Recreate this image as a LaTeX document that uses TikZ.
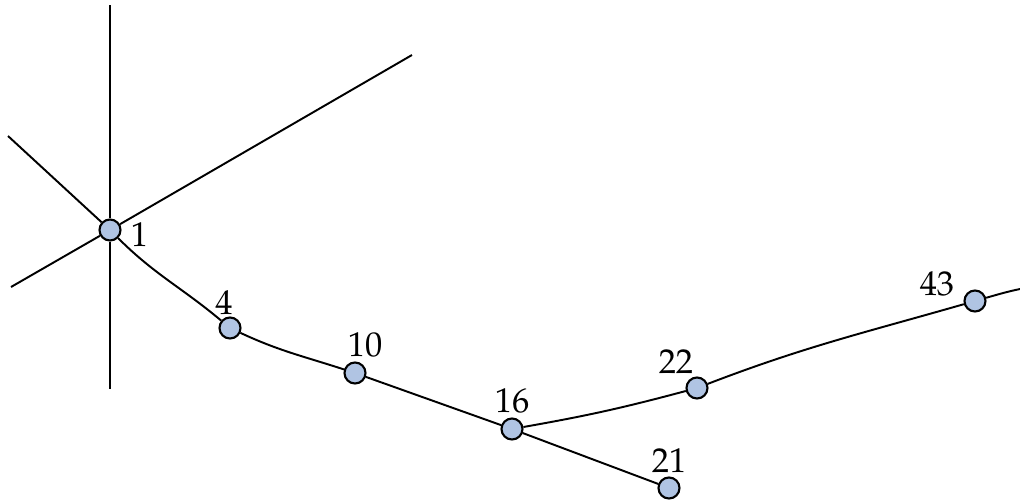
\documentclass[tikz,border=0pt]{standalone}
\usepackage[T1]{fontenc}
\usepackage{mathpazo}
\usepackage{xcolor}
\usepackage{tikz}
\usetikzlibrary{positioning}
\definecolor{vertexblue}{rgb}{0.69,0.77,0.89}

\begin{document}
\begin{tikzpicture}[x=0.01cm, y=0.01cm,
        vertex/.style={circle, draw=black, fill=vertexblue, line width=0.6pt, minimum size=0.21cm, inner sep=0pt},
        lbl/.style={inner sep=1pt, font=\fontsize{9.8}{11}\selectfont},
        edge/.style={draw, line width=0.55pt}]
        \useasboundingbox (0,0) rectangle (1020,499);

        \node [vertex, label={[lbl, xshift=0.05cm, yshift=-0.05cm]right:1}] (n1) at (110,269) {};
        \node [vertex, label={[lbl, xshift=-0.06cm, yshift=-0.02cm]above:4}] (n4) at (230,171) {};
        \node [vertex, label={[lbl, xshift=0.1cm]above:10}] (n10) at (355,126) {};
        \node [vertex, label={[lbl]above:16}] (n16) at (512,70) {};
        \node [vertex, label={[lbl, xshift=-0.21cm, yshift=-0.01cm]above:22}] (n22) at (697,111) {};
        \node [vertex, label={[lbl]above:21}] (n21) at (669,11) {};
        \node [vertex, label={[lbl, xshift=-0.05cm, yshift=0.17cm]left:43}] (n43) at (975,198) {};

        % loose ends
        \coordinate (top) at (110,494);
        \coordinate (bottom) at (110,110);
        \coordinate (nw) at (8,363);
        \coordinate (sw) at (11,212);
        \coordinate (ne) at (412,444);
        \coordinate (rt) at (1020,210);

        \path [edge] (top) -- (n1);
        \path [edge] (n1) -- (bottom);
        \path [edge] (nw) -- (n1);
        \path [edge] (sw) -- (n1);
        \path [edge] (n1) -- (ne);
        \path [edge] (n1) to[out=-45, in=140] (n4);
        \path [edge] (n4) to[out=-25, in=162] (n10);
        \path [edge] (n10) -- (n16);
        \path [edge] (n16) -- (n21);
        \path [edge] (n16) to[out=10, in=-165] (n22);
        \path [edge] (n22) to[out=21, in=-164] (n43);
        \path [edge] (n43) to[out=16, in=-168] (rt);
    \end{tikzpicture}
\end{document}
